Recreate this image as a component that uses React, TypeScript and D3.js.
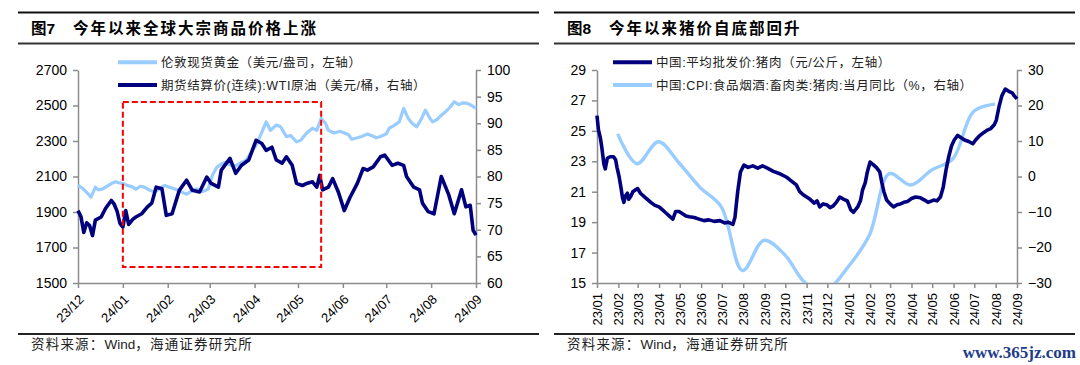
import React, { useRef, useEffect } from 'react';
import * as d3 from 'd3';

// 图7：伦敦金（左轴）与 WTI（右轴）
const goldSeries: [string, number][] = [
  ["2023-12-01", 2050], ["2023-12-04", 2035], ["2023-12-07", 2010], ["2023-12-10", 1984], ["2023-12-13", 2040],
  ["2023-12-15", 2025], ["2023-12-18", 2030], ["2023-12-21", 2045], ["2023-12-24", 2060], ["2023-12-27", 2070],
  ["2023-12-29", 2065], ["2024-01-01", 2060], ["2024-01-04", 2050], ["2024-01-08", 2040], ["2024-01-10", 2028],
  ["2024-01-13", 2045], ["2024-01-16", 2040], ["2024-01-19", 2025], ["2024-01-23", 2012], ["2024-01-26", 2030],
  ["2024-01-30", 2050], ["2024-02-02", 2040], ["2024-02-06", 2030], ["2024-02-10", 2015], ["2024-02-14", 2000],
  ["2024-02-18", 2020], ["2024-02-21", 2030], ["2024-02-25", 2015], ["2024-02-29", 2030], ["2024-03-03", 2110],
  ["2024-03-06", 2153], ["2024-03-09", 2170], ["2024-03-12", 2180], ["2024-03-15", 2165], ["2024-03-19", 2160],
  ["2024-03-22", 2175], ["2024-03-26", 2190], ["2024-03-30", 2240], ["2024-04-02", 2275], ["2024-04-05", 2330],
  ["2024-04-09", 2408], ["2024-04-12", 2360], ["2024-04-16", 2390], ["2024-04-19", 2380], ["2024-04-23", 2325],
  ["2024-04-26", 2330], ["2024-04-30", 2295], ["2024-05-03", 2305], ["2024-05-07", 2345], ["2024-05-11", 2372],
  ["2024-05-14", 2360], ["2024-05-17", 2427], ["2024-05-20", 2400], ["2024-05-22", 2360], ["2024-05-26", 2345],
  ["2024-05-30", 2355], ["2024-06-02", 2345], ["2024-06-05", 2335], ["2024-06-07", 2310], ["2024-06-11", 2318],
  ["2024-06-14", 2325], ["2024-06-18", 2340], ["2024-06-21", 2330], ["2024-06-24", 2318], ["2024-06-27", 2325],
  ["2024-07-01", 2340], ["2024-07-03", 2372], ["2024-07-06", 2385], ["2024-07-10", 2408], ["2024-07-13", 2483],
  ["2024-07-16", 2430], ["2024-07-19", 2399], ["2024-07-22", 2380], ["2024-07-25", 2420], ["2024-07-28", 2474],
  ["2024-07-31", 2430], ["2024-08-02", 2408], ["2024-08-05", 2420], ["2024-08-08", 2445], ["2024-08-11", 2465],
  ["2024-08-14", 2490], ["2024-08-17", 2521], ["2024-08-20", 2505], ["2024-08-23", 2515], ["2024-08-26", 2512],
  ["2024-08-29", 2500], ["2024-09-01", 2484],
];

const wtiSeries: [string, number][] = [
  ["2023-12-01", 73.6], ["2023-12-03", 72.5], ["2023-12-05", 69.5], ["2023-12-07", 71.3], ["2023-12-09", 70.8],
  ["2023-12-11", 68.9], ["2023-12-13", 71.8], ["2023-12-17", 72.4], ["2023-12-20", 74], ["2023-12-24", 75.5],
  ["2023-12-26", 74.8], ["2023-12-28", 73.5], ["2023-12-30", 71.2], ["2024-01-01", 70.5], ["2024-01-03", 73.6],
  ["2024-01-05", 71], ["2024-01-08", 72], ["2024-01-10", 72.4], ["2024-01-14", 73], ["2024-01-18", 74.3],
  ["2024-01-21", 75], ["2024-01-24", 78], ["2024-01-28", 77.7], ["2024-01-31", 72.7], ["2024-02-04", 73],
  ["2024-02-09", 77.4], ["2024-02-14", 79.3], ["2024-02-18", 77.4], ["2024-02-23", 77.1], ["2024-02-28", 79.9],
  ["2024-03-02", 78.7], ["2024-03-07", 78], ["2024-03-09", 81.2], ["2024-03-15", 83.4], ["2024-03-19", 80.6],
  ["2024-03-23", 82.1], ["2024-03-28", 83.1], ["2024-04-02", 86.8], ["2024-04-06", 86.2], ["2024-04-09", 84.9],
  ["2024-04-13", 85.5], ["2024-04-16", 83.1], ["2024-04-20", 82.5], ["2024-04-23", 83.7], ["2024-04-27", 82.1],
  ["2024-04-30", 78.7], ["2024-05-04", 78.3], ["2024-05-07", 78.7], ["2024-05-11", 79], ["2024-05-14", 78],
  ["2024-05-16", 80.2], ["2024-05-18", 77.5], ["2024-05-22", 78], ["2024-05-25", 79.6], ["2024-05-29", 77],
  ["2024-06-02", 73.6], ["2024-06-06", 76.1], ["2024-06-11", 78.7], ["2024-06-15", 81.5], ["2024-06-18", 81.2],
  ["2024-06-22", 81.8], ["2024-06-27", 83.7], ["2024-06-30", 84], ["2024-07-05", 82.1], ["2024-07-09", 82.5],
  ["2024-07-13", 82.1], ["2024-07-15", 80], ["2024-07-20", 78], ["2024-07-24", 77.5], ["2024-07-26", 75],
  ["2024-07-30", 73.4], ["2024-08-03", 73], ["2024-08-08", 80], ["2024-08-13", 76.7], ["2024-08-17", 73],
  ["2024-08-22", 77.5], ["2024-08-25", 74.3], ["2024-08-28", 74.6], ["2024-08-30", 69.9], ["2024-09-01", 69],
];

// 红色虚线框：起止日期、上下沿（左轴）
const boxDates = ["2024-01-01", "2024-05-17"];
const boxLevels = [2520, 1590];

const goldTicks = [1500, 1700, 1900, 2100, 2300, 2500, 2700];
const wtiTicks = [60, 65, 70, 75, 80, 85, 90, 95, 100];
const fig7Months = ["2023-12-01", "2024-01-01", "2024-02-01", "2024-03-01", "2024-04-01", "2024-05-01",
  "2024-06-01", "2024-07-01", "2024-08-01", "2024-09-01"];

// 图8：猪肉批发价（左轴）与猪肉 CPI 同比（右轴）
const porkSeries: [string, number][] = [
  ["2023-01-01", 26.0], ["2023-01-03", 25.1], ["2023-01-06", 24.5], ["2023-01-08", 23.9], ["2023-01-11", 22.8],
  ["2023-01-13", 22.5], ["2023-01-16", 23.2], ["2023-01-20", 23.3], ["2023-01-25", 23.3], ["2023-01-28", 23.1],
  ["2023-01-30", 22.6], ["2023-02-02", 22.0], ["2023-02-05", 21.2], ["2023-02-07", 20.6], ["2023-02-09", 20.3],
  ["2023-02-11", 20.7], ["2023-02-14", 20.9], ["2023-02-16", 20.5], ["2023-02-19", 20.7], ["2023-02-22", 21.0],
  ["2023-02-25", 21.1], ["2023-03-01", 21.2], ["2023-03-05", 20.9], ["2023-03-10", 20.7], ["2023-03-15", 20.5],
  ["2023-03-20", 20.3], ["2023-03-26", 20.1], ["2023-04-01", 20.0], ["2023-04-06", 19.8], ["2023-04-11", 19.6],
  ["2023-04-16", 19.4], ["2023-04-21", 19.2], ["2023-04-25", 19.7], ["2023-04-30", 19.7], ["2023-05-05", 19.55],
  ["2023-05-10", 19.4], ["2023-05-15", 19.35], ["2023-05-22", 19.3], ["2023-05-29", 19.2], ["2023-06-05", 19.1],
  ["2023-06-12", 19.15], ["2023-06-20", 19.05], ["2023-06-28", 19.1], ["2023-07-05", 18.95], ["2023-07-10", 19.0],
  ["2023-07-17", 18.85], ["2023-07-20", 19.3], ["2023-07-24", 21.0], ["2023-07-28", 22.3], ["2023-08-02", 22.75],
  ["2023-08-08", 22.6], ["2023-08-15", 22.7], ["2023-08-22", 22.55], ["2023-08-29", 22.7], ["2023-09-05", 22.55],
  ["2023-09-13", 22.35], ["2023-09-22", 22.2], ["2023-10-03", 21.95], ["2023-10-10", 21.7], ["2023-10-17", 21.45],
  ["2023-10-22", 21.0], ["2023-10-27", 20.8], ["2023-11-06", 20.5], ["2023-11-12", 20.25], ["2023-11-16", 20.4],
  ["2023-11-20", 20.0], ["2023-11-25", 20.2], ["2023-11-30", 20.15], ["2023-12-05", 19.95], ["2023-12-09", 20.05],
  ["2023-12-14", 20.3], ["2023-12-19", 20.65], ["2023-12-25", 20.5], ["2023-12-30", 20.4], ["2024-01-04", 19.8],
  ["2024-01-08", 19.65], ["2024-01-14", 20.0], ["2024-01-18", 20.4], ["2024-01-21", 21.1], ["2024-01-25", 21.6],
  ["2024-01-28", 22.3], ["2024-02-01", 22.95], ["2024-02-05", 22.8], ["2024-02-10", 22.6], ["2024-02-15", 22.3],
  ["2024-02-18", 21.6], ["2024-02-21", 21.0], ["2024-02-25", 20.45], ["2024-03-01", 20.2], ["2024-03-06", 20.0],
  ["2024-03-11", 20.15], ["2024-03-16", 20.2], ["2024-03-21", 20.3], ["2024-03-26", 20.35], ["2024-04-01", 20.55],
  ["2024-04-07", 20.65], ["2024-04-14", 20.6], ["2024-04-20", 20.45], ["2024-04-25", 20.3], ["2024-05-03", 20.45],
  ["2024-05-08", 20.4], ["2024-05-13", 20.65], ["2024-05-17", 21.3], ["2024-05-21", 22.4], ["2024-05-25", 23.3],
  ["2024-05-29", 24.0], ["2024-06-02", 24.4], ["2024-06-07", 24.7], ["2024-06-12", 24.55], ["2024-06-17", 24.4],
  ["2024-06-23", 24.3], ["2024-06-29", 24.15], ["2024-07-03", 24.4], ["2024-07-08", 24.65], ["2024-07-15", 24.9],
  ["2024-07-20", 25.05], ["2024-07-25", 25.15], ["2024-07-30", 25.4], ["2024-08-02", 25.7], ["2024-08-06", 26.6],
  ["2024-08-10", 27.3], ["2024-08-15", 27.75], ["2024-08-20", 27.6], ["2024-08-25", 27.5], ["2024-08-28", 27.3],
  ["2024-09-01", 27.1],
];

const cpiSeries: [string, number][] = [
  ["2023-01-31", 12.0], ["2023-02-28", 3.6], ["2023-03-31", 9.8], ["2023-04-30", 3.8], ["2023-05-31", -3.2],
  ["2023-06-30", -8.5], ["2023-07-31", -26.5], ["2023-08-31", -18.0], ["2023-09-30", -22.0], ["2023-10-31", -30.1],
  ["2023-11-30", -31.8], ["2023-12-31", -25.5], ["2024-01-31", -16.5], ["2024-02-29", 0.8], ["2024-03-31", -2.4],
  ["2024-04-30", 1.8], ["2024-05-31", 5.0], ["2024-06-30", 18.3], ["2024-07-31", 20.4],
];

const porkTicks = [15, 17, 19, 21, 23, 25, 27, 29];
const cpiTicks = [-30, -20, -10, 0, 10, 20, 30];
const fig8Months = ["2023-01-01", "2023-02-01", "2023-03-01", "2023-04-01", "2023-05-01", "2023-06-01",
  "2023-07-01", "2023-08-01", "2023-09-01", "2023-10-01", "2023-11-01", "2023-12-01", "2024-01-01",
  "2024-02-01", "2024-03-01", "2024-04-01", "2024-05-01", "2024-06-01", "2024-07-01", "2024-08-01", "2024-09-01"];

const NAVY = "#00007f";
const LIGHT = "#99ccff";
const AXIS = "#8c8c8c";
const LATIN = "'Liberation Sans', Arial, 'Noto Sans CJK SC', sans-serif";
const CJK = "'Liberation Sans', 'Noto Sans CJK SC', sans-serif";

const parse = d3.timeParse("%Y-%m-%d");

const App = () => {
  const ref = useRef(null);

  useEffect(() => {
    if (!ref.current) return;
    const svg = d3.select(ref.current);
    svg.selectAll("*").remove();

    const top = 70, bottom = 283;

    const styleAxis = (g, fs) => {
      g.select(".domain").attr("stroke", AXIS).attr("stroke-width", 1.5);
      g.selectAll(".tick line").attr("stroke", AXIS).attr("stroke-width", 1.5);
      g.selectAll(".tick text").attr("fill", "#000").style("font-family", LATIN).style("font-size", fs + "px");
    };

    const frame = (x0, x1, title, num) => {
      svg.append("line").attr("x1", x0).attr("x2", x1).attr("y1", 12.5).attr("y2", 12.5)
        .attr("stroke", "#111").attr("stroke-width", 2);
      svg.append("line").attr("x1", x0).attr("x2", x1).attr("y1", 43.5).attr("y2", 43.5)
        .attr("stroke", "#333").attr("stroke-width", 2);
      svg.append("line").attr("x1", x0).attr("x2", x1).attr("y1", 334).attr("y2", 334)
        .attr("stroke", "#222").attr("stroke-width", 2);
      const t = svg.append("text").attr("y", 33.5).attr("fill", "#000")
        .style("font-family", CJK).style("font-size", "15.5px").style("font-weight", "bold");
      t.append("tspan").attr("x", x0 + 13).text("图" + num);
      t.append("tspan").attr("x", x0 + 55).style("letter-spacing", "2px").text(title);
      const s = svg.append("text").attr("x", x0 + 13).attr("y", 349).attr("fill", "#222")
        .style("font-family", CJK).style("font-size", "13.5px");
      s.append("tspan").style("letter-spacing", "1.2px").text("资料来源：");
      s.append("tspan").text("Wind");
      s.append("tspan").style("letter-spacing", "1.2px").text("，海通证券研究所");
    };

    const legend = (lx, items) => {
      items.forEach((it, i) => {
        const y = 62.3 + i * 22.7;
        svg.append("line").attr("x1", lx).attr("x2", lx + 39).attr("y1", y).attr("y2", y)
          .attr("stroke", it.color).attr("stroke-width", 4);
        svg.append("text").attr("x", lx + 43).attr("y", y + 4.6).attr("fill", "#222")
          .style("font-family", CJK).style("font-size", "12.5px").style("letter-spacing", "0.6px")
          .text(it.label);
      });
    };

    const lineOf = (x, y, curve) => d3.line<[string, number]>()
      .x(d => x(parse(d[0])))
      .y(d => y(d[1]))
      .curve(curve);

    // ---------- 图7 ----------
    frame(18, 539, "今年以来全球大宗商品价格上涨", "7");
    const x7 = d3.scaleTime().domain([parse(fig7Months[0]), parse(fig7Months[fig7Months.length - 1])]).range([78, 476]);
    const yGold = d3.scaleLinear().domain([1500, 2700]).range([bottom, top]);
    const yWti = d3.scaleLinear().domain([60, 100]).range([bottom, top]);

    const gxl = svg.append("g").attr("transform", `translate(0,${bottom})`)
      .call(d3.axisBottom(x7).tickValues(fig7Months.map(parse)).tickSize(5).tickSizeOuter(0)
        .tickFormat(d3.timeFormat("%y/%m")));
    styleAxis(gxl, 13);
    gxl.selectAll(".tick text").attr("x", 0).attr("y", 0).attr("dy", "0.35em")
      .attr("text-anchor", "end").attr("transform", "translate(3,14) rotate(-45)");

    const gyl = svg.append("g").attr("transform", "translate(78,0)")
      .call(d3.axisLeft(yGold).tickValues(goldTicks).tickSize(5).tickSizeOuter(0).tickPadding(6)
        .tickFormat(d3.format("d")));
    styleAxis(gyl, 14);
    const gyr = svg.append("g").attr("transform", "translate(476,0)")
      .call(d3.axisRight(yWti).tickValues(wtiTicks).tickSize(5).tickSizeOuter(0).tickPadding(6));
    styleAxis(gyr, 14);

    svg.append("path").datum(goldSeries).attr("fill", "none").attr("stroke", LIGHT)
      .attr("stroke-width", 3.2).attr("stroke-linejoin", "round")
      .attr("d", lineOf(x7, yGold, d3.curveLinear));
    svg.append("path").datum(wtiSeries).attr("fill", "none").attr("stroke", NAVY)
      .attr("stroke-width", 3.6).attr("stroke-linejoin", "round")
      .attr("d", lineOf(x7, yWti, d3.curveLinear));

    const bx0 = x7(parse(boxDates[0])), bx1 = x7(parse(boxDates[1]));
    const by0 = yGold(boxLevels[0]), by1 = yGold(boxLevels[1]);
    svg.append("rect").attr("x", bx0).attr("y", by0).attr("width", bx1 - bx0).attr("height", by1 - by0)
      .attr("fill", "none").attr("stroke", "#ff0000").attr("stroke-width", 2).attr("stroke-dasharray", "6,3");

    legend(118, [
      { color: LIGHT, label: "伦敦现货黄金（美元/盎司，左轴）" },
      { color: NAVY, label: "期货结算价(连续):WTI原油（美元/桶，右轴）" },
    ]);

    // ---------- 图8 ----------
    frame(554, 1075, "今年以来猪价自底部回升", "8");
    const x8 = d3.scaleTime().domain([parse(fig8Months[0]), parse(fig8Months[fig8Months.length - 1])]).range([597, 1017]);
    const yPork = d3.scaleLinear().domain([15, 29]).range([bottom, top]);
    const yCpi = d3.scaleLinear().domain([-30, 30]).range([bottom, top]);

    const gxr = svg.append("g").attr("transform", `translate(0,${bottom})`)
      .call(d3.axisBottom(x8).tickValues(fig8Months.map(parse)).tickSize(5).tickSizeOuter(0)
        .tickFormat(d3.timeFormat("%y/%m")));
    styleAxis(gxr, 13);
    gxr.selectAll(".tick text").attr("x", 0).attr("y", 0).attr("dy", "0.35em")
      .attr("text-anchor", "end").attr("transform", "translate(0,10) rotate(-90)");

    const gpl = svg.append("g").attr("transform", "translate(597,0)")
      .call(d3.axisLeft(yPork).tickValues(porkTicks).tickSize(5).tickSizeOuter(0).tickPadding(6));
    styleAxis(gpl, 14);
    const gpr = svg.append("g").attr("transform", "translate(1017,0)")
      .call(d3.axisRight(yCpi).tickValues(cpiTicks).tickSize(5).tickSizeOuter(0).tickPadding(6));
    styleAxis(gpr, 14);

    svg.append("clipPath").attr("id", "plot8").append("rect")
      .attr("x", 597).attr("y", top).attr("width", 420).attr("height", bottom - top);

    svg.append("path").datum(cpiSeries).attr("fill", "none").attr("stroke", LIGHT)
      .attr("stroke-width", 3.4).attr("clip-path", "url(#plot8)")
      .attr("d", lineOf(x8, yCpi, d3.curveCatmullRom.alpha(0.5)));
    svg.append("path").datum(porkSeries).attr("fill", "none").attr("stroke", NAVY)
      .attr("stroke-width", 3.6).attr("stroke-linejoin", "round")
      .attr("d", lineOf(x8, yPork, d3.curveLinear));

    legend(613, [
      { color: NAVY, label: "中国:平均批发价:猪肉（元/公斤，左轴）" },
      { color: LIGHT, label: "中国:CPI:食品烟酒:畜肉类:猪肉:当月同比（%，右轴）" },
    ]);

    svg.append("text").attr("x", 1076).attr("y", 358).attr("text-anchor", "end").attr("fill", "#1d3c8a")
      .style("font-family", "'Liberation Serif', serif").style("font-size", "17px").style("font-weight", "bold")
      .text("www.365jz.com");
  }, []);

  return (
    <svg ref={ref} width={1080} height={365}
      style={{ position: "absolute", left: 0, top: 0, background: "#fff" }} />
  );
};

export default App;
